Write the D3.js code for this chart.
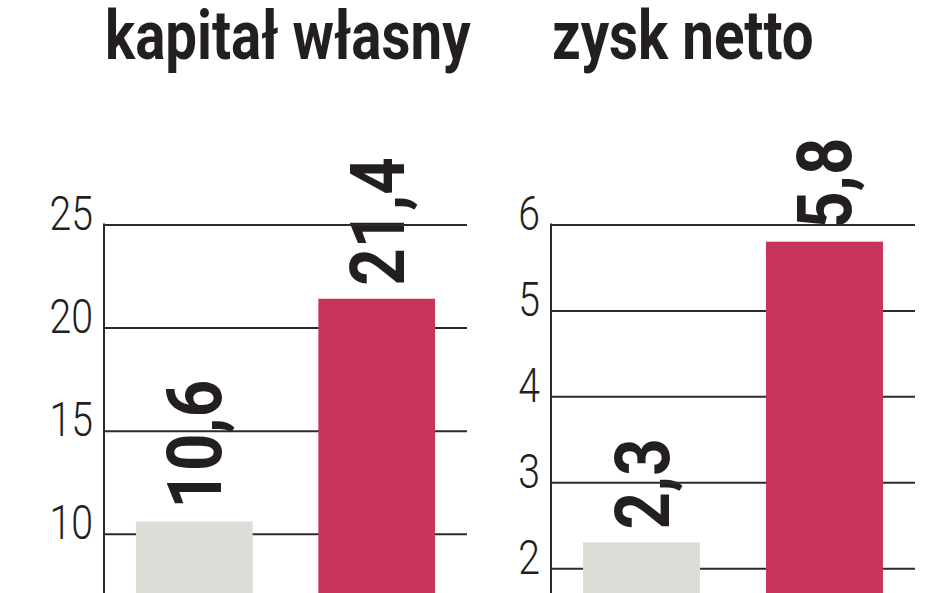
<!DOCTYPE html>
<html>
<head>
<meta charset="utf-8">
<script src="https://cdn.jsdelivr.net/npm/d3@7"></script>
<style>
  body { margin: 0; background: #fff; }
  text { font-family: Roboto, "DejaVu Sans", sans-serif; fill: #231f20; }
</style>
</head>
<body>
<div id="chart"></div>
<script>
// Chart dimensions
let dim = { 'width': 948, 'height': 593 };

// Data: two periods, two indicators
let periods = ['poprzedni', 'obecny'];
let equityValues = [10.6, 21.4];     // kapitał własny
let profitValues = [2.3, 5.8];       // zysk netto
let equityTicks = [10, 15, 20, 25];
let profitTicks = [2, 3, 4, 5, 6];
let titles = ['kapitał własny', 'zysk netto'];
let barColors = ['#dddcd6', '#c9345c'];

let panels = [
    { title: titles[0], values: equityValues, ticks: equityTicks, max: 25, left: 104, right: 467 },
    { title: titles[1], values: profitValues, ticks: profitTicks, max: 6, left: 551, right: 915 }
];

let svg = d3.select('#chart')
    .append('svg')
    .attr('width', dim.width)
    .attr('height', dim.height);

// both panels share the same (off-screen) baseline and top gridline
let plotTop = 224.5, plotBase = 740;

panels.forEach(p => {
    let y = d3.scaleLinear()
        .domain([0, p.max])
        .range([plotBase, plotTop]);

    let x = d3.scaleBand()
        .domain(periods)
        .range([p.left, p.right])
        .paddingInner(0.36)
        .paddingOuter(0.175);

    let g = svg.append('g');

    // title, left aligned with the axis
    g.append('text')
        .attr('transform', `translate(${p.left + 1}, 59) scale(0.83, 1)`)
        .style('font-size', '68px')
        .style('font-weight', 700)
        .text(p.title);

    // value labels (drawn first so the gridlines pass over them)
    g.selectAll('.value')
        .data(p.values)
        .join('text')
        .classed('value', true)
        .attr('transform', (d, i) =>
            `translate(${x(periods[i]) + x.bandwidth() / 2 + 27}, ${y(d) - 13}) rotate(-90) scale(0.86, 1)`)
        .style('font-size', '76px')
        .style('font-weight', 700)
        .text(d => d.toFixed(1).replace('.', ','));

    // y axis with gridlines
    let axis = g.append('g')
        .attr('transform', `translate(${p.left}, 0)`)
        .call(d3.axisLeft(y)
            .tickValues(p.ticks)
            .tickSize(-(p.right - p.left))
            .tickFormat(d3.format('d')));

    axis.select('.domain').remove();
    axis.selectAll('.tick line')
        .attr('stroke', '#2b2b2b')
        .attr('stroke-width', 2);
    axis.selectAll('.tick text')
        .attr('x', null)
        .attr('dy', null)
        .attr('transform', 'translate(-11, 5) scale(0.8, 1)')
        .attr('fill', '#231f20')
        .style('font-size', '49px')
        .style('font-weight', 300)
        .style('font-family', 'Roboto, "DejaVu Sans", sans-serif');

    // vertical axis line
    g.append('line')
        .attr('x1', p.left).attr('x2', p.left)
        .attr('y1', plotTop - 1).attr('y2', dim.height)
        .attr('stroke', '#2b2b2b')
        .attr('stroke-width', 2);

    // bars on top of the gridlines
    g.selectAll('.bar')
        .data(p.values)
        .join('rect')
        .classed('bar', true)
        .attr('x', (d, i) => x(periods[i]))
        .attr('y', d => y(d))
        .attr('width', x.bandwidth())
        .attr('height', d => y(0) - y(d))
        .attr('fill', (d, i) => barColors[i]);
});
</script>
</body>
</html>
